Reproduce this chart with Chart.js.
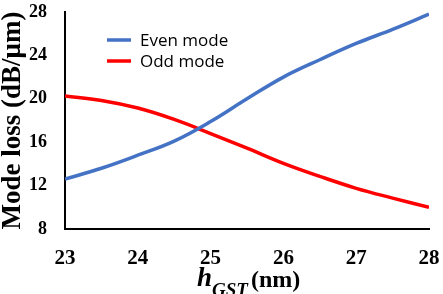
<!DOCTYPE html>
<html>
<head>
<meta charset="utf-8">
<script src="https://cdn.jsdelivr.net/npm/chart.js@4"></script>
<style>
    html, body { margin: 0; padding: 0; background: #fff; }
    #wrap { width: 443px; height: 294px; }
</style>
</head>
<body>
<div id="wrap"><canvas id="lossChart"></canvas></div>
<script>
// GST thickness (nm) and mode loss
const hGst = [23, 23.5, 24, 24.5, 25, 25.5, 26, 26.5, 27, 27.5, 28];
const evenLoss = [12.6, 13.6, 14.8, 16.1, 17.9, 20.0, 22.0, 23.6, 25.1, 26.4, 27.8];
const oddLoss = [20.25, 19.85, 19.15, 18.1, 16.8, 15.45, 14.05, 12.85, 11.75, 10.85, 10.0];
const seriesNames = ["Even mode", "Odd mode"];
const seriesColors = ["#4472C4", "#FF0000"];

const toPoints = (ys) => hGst.map((x, i) => ({ x, y: ys[i] }));

// keep tick labels from pushing the plot area in
function noLabelPadding(s) {
    s.paddingLeft = 0;
    s.paddingRight = 0;
    s.paddingTop = 0;
    s.paddingBottom = 0;
}

// Legend sits inside the plot, so draw it by hand
const insideLegend = {
    id: "insideLegend",
    afterDraw(chart) {
        const ctx = chart.ctx;
        ctx.save();
        ctx.font = "17px 'Open Sans'";
        ctx.textBaseline = "middle";
        chart.data.datasets.forEach((ds, i) => {
            const y = 40 + i * 21;
            ctx.strokeStyle = ds.borderColor;
            ctx.lineWidth = 3.5;
            ctx.beginPath();
            ctx.moveTo(107, y);
            ctx.lineTo(131, y);
            ctx.stroke();
            ctx.fillStyle = "#000";
            ctx.fillText(ds.label, 140, y + 1);
        });
        ctx.restore();
    }
};

// x title: italic h with subscript GST, then (nm)
const xTitle = {
    id: "xTitle",
    afterDraw(chart) {
        const ctx = chart.ctx;
        ctx.save();
        ctx.fillStyle = "#000";
        ctx.textBaseline = "alphabetic";
        let x = 197;
        ctx.font = "italic bold 27px 'Liberation Serif'";
        ctx.fillText("h", x, 286);
        x += ctx.measureText("h").width;
        ctx.font = "italic bold 19px 'Liberation Serif'";
        ctx.fillText("GST", x, 296);
        x += ctx.measureText("GST").width + 3;
        ctx.font = "bold 24px 'Liberation Serif'";
        ctx.fillText("(nm)", x, 287);
        ctx.restore();
    }
};

new Chart(document.getElementById("lossChart"), {
    type: "line",
    data: {
        datasets: [
            {
                label: seriesNames[0],
                data: toPoints(evenLoss),
                borderColor: seriesColors[0],
                borderWidth: 3.5,
                pointRadius: 0,
                tension: 0.4
            },
            {
                label: seriesNames[1],
                data: toPoints(oddLoss),
                borderColor: seriesColors[1],
                borderWidth: 3.5,
                pointRadius: 0,
                tension: 0.4
            }
        ]
    },
    options: {
        responsive: true,
        maintainAspectRatio: false,
        animation: false,
        layout: { padding: { top: 12, right: 14, left: 0, bottom: 0 } },
        plugins: {
            legend: { display: false },
            tooltip: { enabled: false }
        },
        scales: {
            x: {
                type: "linear",
                min: 23,
                max: 28,
                afterFit: (s) => { s.height = 65; noLabelPadding(s); },
                ticks: {
                    stepSize: 1,
                    padding: 17,
                    color: "#000",
                    font: { family: "'Liberation Serif'", size: 21, weight: "bold" }
                },
                grid: { display: true, color: "rgba(0,0,0,0)", drawTicks: false },
                border: { display: true, color: "#000", width: 2 }
            },
            y: {
                min: 8,
                max: 28,
                afterFit: (s) => { s.width = 65; noLabelPadding(s); },
                ticks: {
                    stepSize: 4,
                    padding: 18,
                    color: "#000",
                    font: { family: "'Liberation Serif'", size: 18, weight: "bold" }
                },
                grid: { display: true, color: "rgba(0,0,0,0)", drawTicks: false },
                border: { display: true, color: "#000", width: 2 },
                title: {
                    display: true,
                    text: "Mode loss (dB/μm)",
                    color: "#000",
                    padding: 0,
                    font: { family: "'Liberation Serif'", size: 27, weight: "bold", lineHeight: 1 }
                }
            }
        }
    },
    plugins: [insideLegend, xTitle]
});
</script>
</body>
</html>
